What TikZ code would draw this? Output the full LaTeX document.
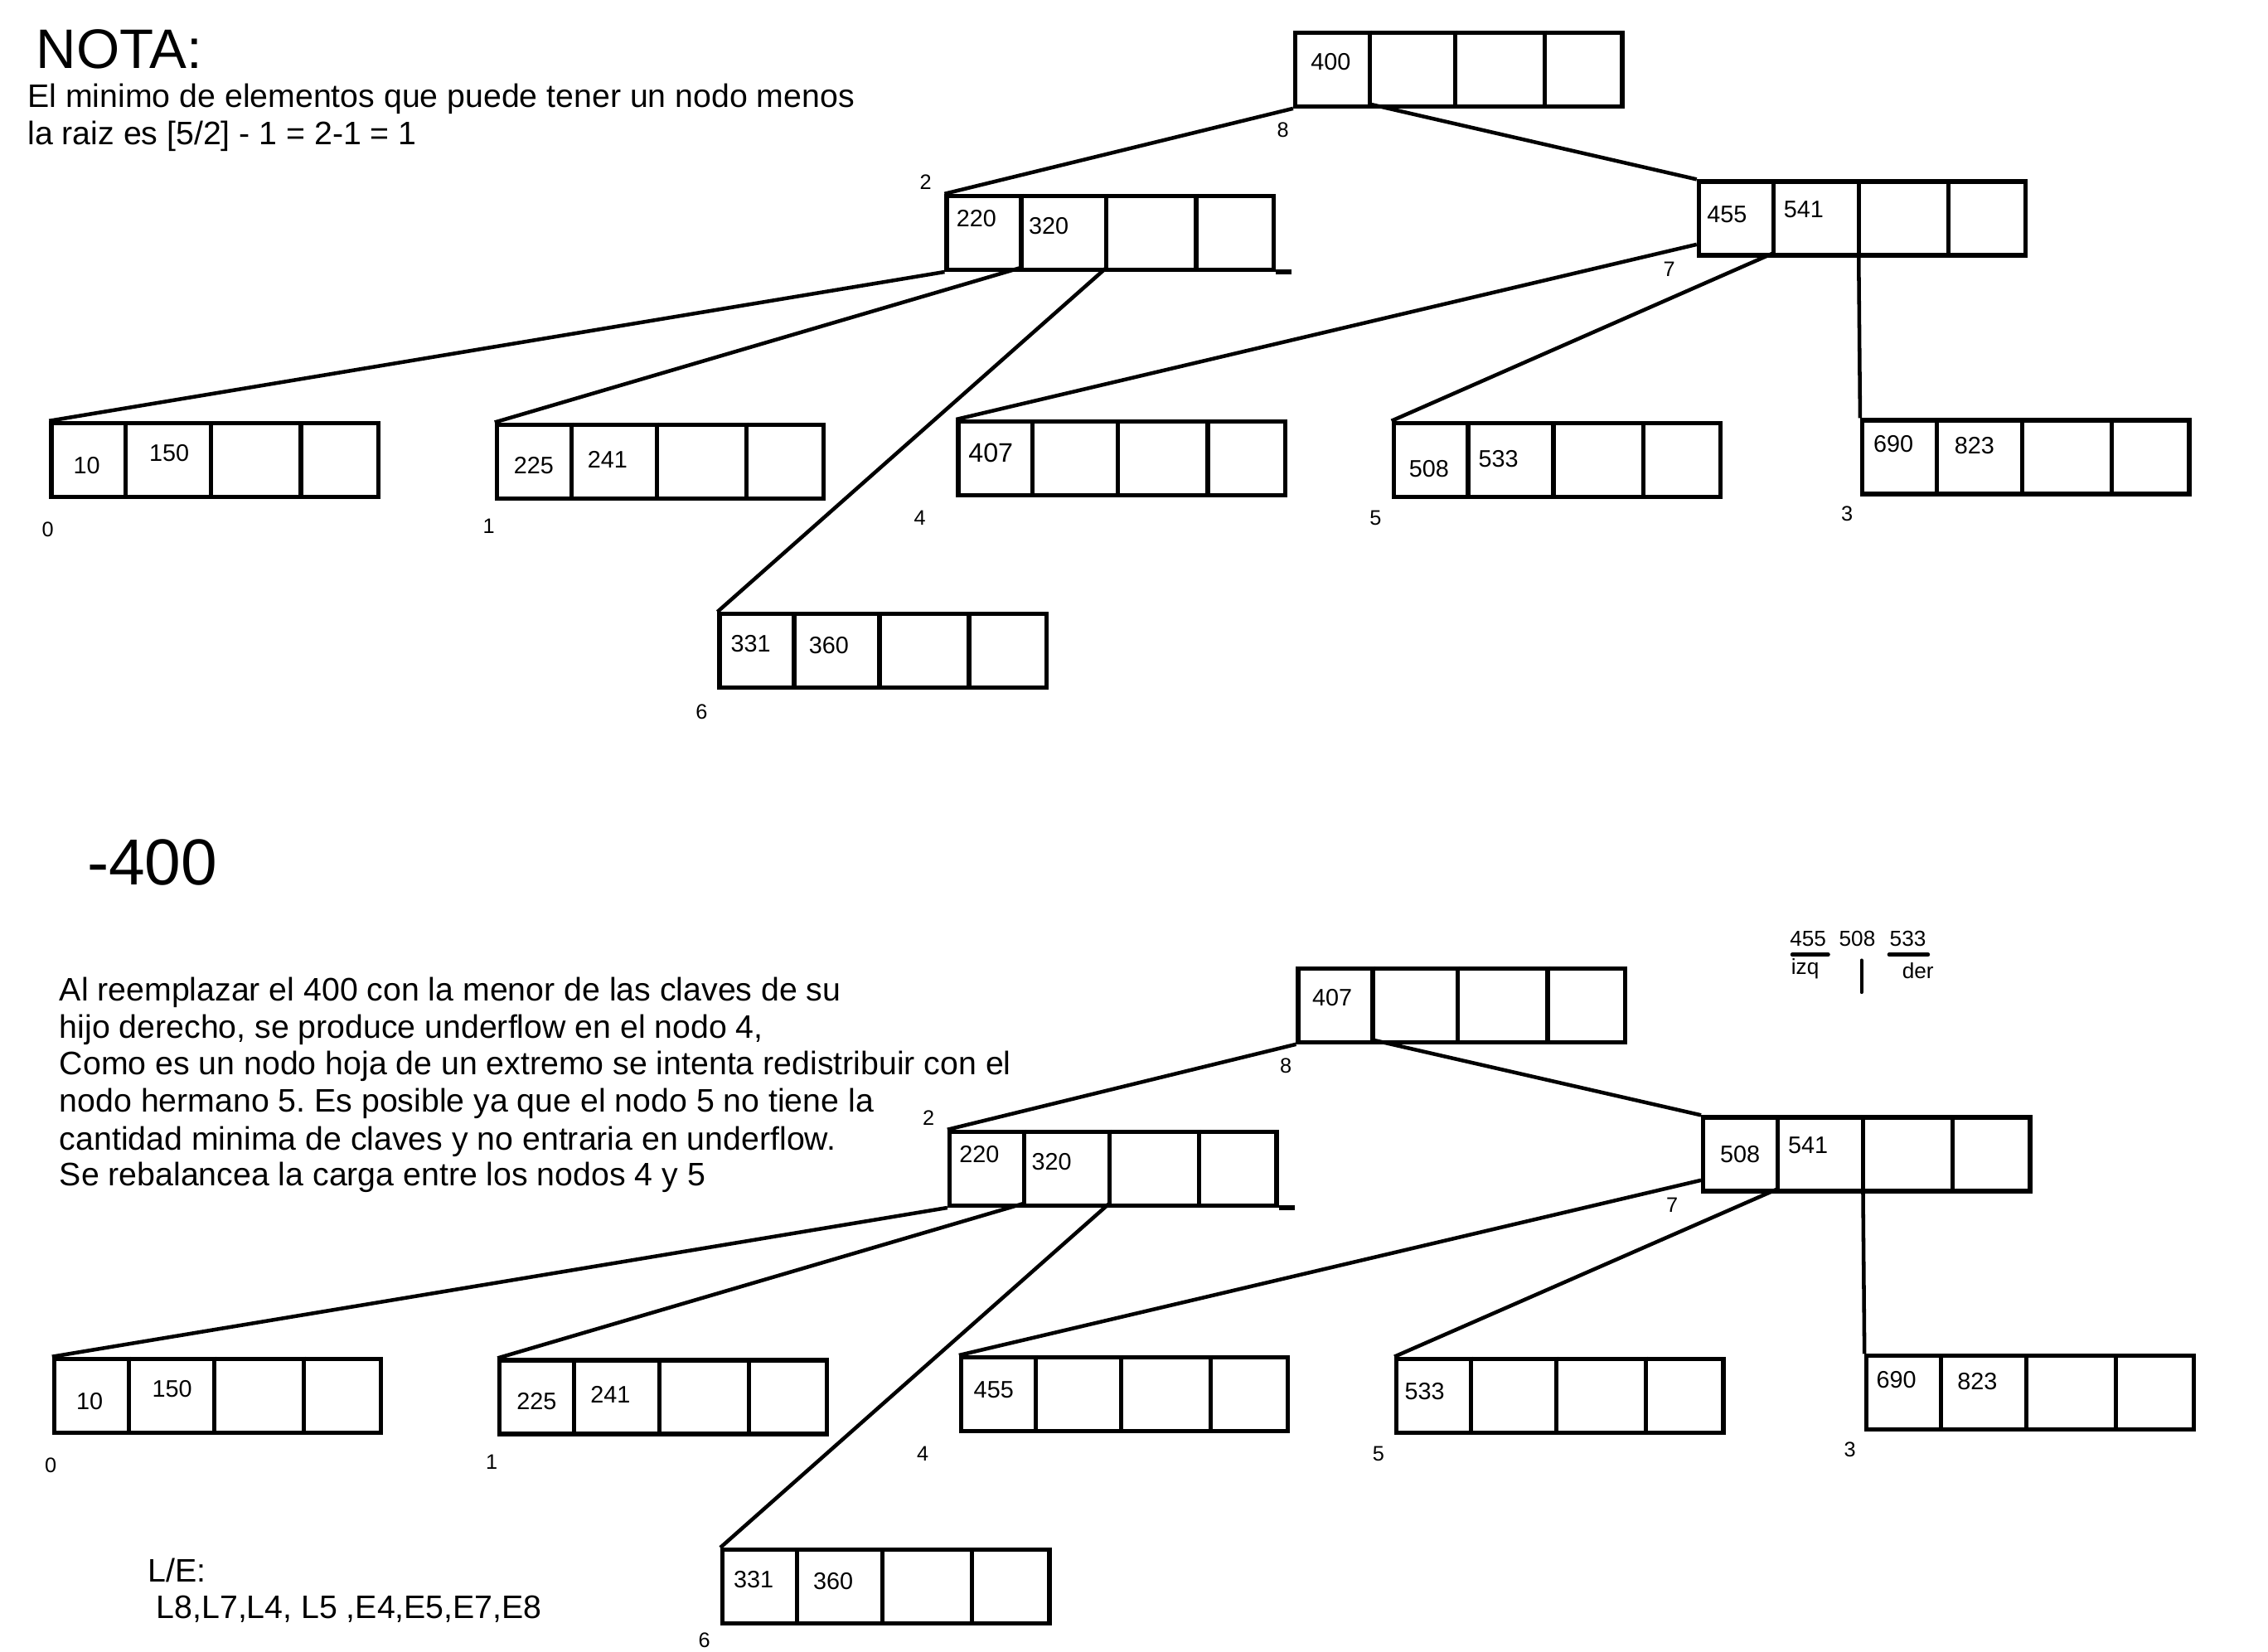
\documentclass[tikz,border=0pt]{standalone}
\usepackage{fontspec}
\setmainfont{Liberation Sans}
\frenchspacing
\begin{document}
\begin{tikzpicture}[x=1pt,y=-1pt,
  bx/.style={draw, line width=3pt, minimum width=226pt, minimum height=51pt, inner sep=0pt, anchor=north west},
  dv/.style={line width=3pt},
  edge/.style={line width=2.6pt},
  key/.style={font=\fontsize{16.5}{18}\selectfont, inner sep=0pt},
  bigkey/.style={font=\fontsize{18.5}{20}\selectfont, inner sep=0pt},
  lbl/.style={font=\fontsize{14.5}{16}\selectfont, inner sep=0pt},
  txt/.style={font=\fontsize{22.5}{25.7}\selectfont, inner sep=0pt, anchor=base west},
  uline/.style={line width=2.5pt, line cap=round}]
\useasboundingbox (0,0) rectangle (1568,1142);
\clip (0,0) rectangle (1568,1142);
\newcommand\bbox[3]{%
  \node[bx] (#1) at (#2,#3) {};
  \coordinate (#1-a) at (#2+53,#3+51);
  \coordinate (#1-b) at (#2+112,#3+51);
  \coordinate (#1-c) at (#2+174,#3+51);
  \coordinate (#1-l) at (#2,#3+45);
  \draw[dv] (#2+53,#3) -- (#1-a);
  \draw[dv] (#2+112,#3) -- (#1-b);
  \draw[dv] (#2+174,#3) -- (#1-c);
}
% ---------- top text
\node[anchor=base west, inner sep=0pt, font=\fontsize{38.5}{40}\selectfont] (nota) at (25,47) {NOTA:};
\node[txt] (n1) at (19,74) {El minimo de elementos que puede tener un nodo menos};
\node[txt] (n2) at (19,100) {la raiz es [5/2] - 1 = 2-1 = 1};
% ---------- top tree
\bbox{tR}{894}{21}
\bbox{t2}{653}{134}
\bbox{t7}{1173}{124}
\bbox{t0}{34}{291}
\bbox{t1}{342}{292}
\bbox{t6}{496}{423}
\bbox{t4}{661}{290}
\bbox{t5}{962}{291}
\bbox{t3}{1286}{289}
\draw[dv] (t2.south east) -- ++(11,0);
\draw[edge] (tR.south west) -- (t2.north west);
\draw[edge] (tR-a) -- (t7.north west);
\draw[edge] (t2.south west) -- (t0.north west);
\draw[edge] (t2-a) -- (t1.north west);
\draw[edge] (t2-b) -- (t6.north west);
\draw[edge] (t7-l) -- (t4.north west);
\draw[edge] (t7-a) -- (t5.north west);
\draw[edge] (t7-b) -- (t3.north west);
\node[key] (k1) at (920,43) {400};
\node[key] (k2) at (675,151) {220};
\node[key] (k3) at (725,156) {320};
\node[key] (k4) at (1194,148) {455};
\node[key] (k5) at (1247,145) {541};
\node[key] (k6) at (60,322) {10};
\node[key] (k7) at (117,313) {150};
\node[key] (k8) at (369,322) {225};
\node[key] (k9) at (420,318) {241};
\node[key] (k10) at (519,445) {331};
\node[key] (k11) at (573,446) {360};
\node[bigkey] (k12) at (685,313) {407};
\node[key] (k13) at (988,324) {508};
\node[key] (k14) at (1036,317) {533};
\node[key] (k15) at (1309,307) {690};
\node[key] (k16) at (1365,308) {823};
\node[lbl] (l1) at (887,90) {8};
\node[lbl] (l2) at (640,126) {2};
\node[lbl] (l3) at (1154,186) {7};
\node[lbl] (l4) at (33,366) {0};
\node[lbl] (l5) at (338,364) {1};
\node[lbl] (l6) at (485,492) {6};
\node[lbl] (l7) at (636,358) {4};
\node[lbl] (l8) at (951,358) {5};
\node[lbl] (l9) at (1277,355) {3};
% ---------- bottom text
\node[anchor=base west, inner sep=0pt, font=\fontsize{45}{48}\selectfont] (minus) at (60,612) {-400};
\node[txt] (p1) at (41,692) {Al reemplazar el 400 con la menor de las claves de su};
\node[txt] (p2) at (41,718) {hijo derecho, se produce underflow en el nodo 4,};
\node[txt] (p3) at (41,743) {Como es un nodo hoja de un extremo se intenta redistribuir con el};
\node[txt] (p4) at (41,769) {nodo hermano 5. Es posible ya que el nodo 5 no tiene la};
\node[txt] (p5) at (41,795) {cantidad minima de claves y no entraria en underflow.};
\node[txt] (p6) at (41,820) {Se rebalancea la carga entre los nodos 4 y 5};
\node[txt] (le1) at (102,1094) {L/E:};
\node[txt] (le2) at (108,1119) {L8,L7,L4, L5 ,E4,E5,E7,E8};
% annotation
\node[lbl, font=\fontsize{15}{16}\selectfont] (a1) at (1250,649) {455};
\node[lbl, font=\fontsize{15}{16}\selectfont] (a2) at (1284,649) {508};
\node[lbl, font=\fontsize{15}{16}\selectfont] (a3) at (1319,649) {533};
\draw[uline] (1239,660) -- (1264,660);
\draw[uline] (1306,660) -- (1333,660);
\draw[uline] (1287,664) -- (1287,686);
\node[lbl, font=\fontsize{15}{16}\selectfont] (a4) at (1248,670) {izq};
\node[lbl, font=\fontsize{15}{16}\selectfont] (a5) at (1326,671) {der};
% ---------- bottom tree
\bbox{bR}{896}{668}
\bbox{b2}{655}{781}
\bbox{b7}{1176}{771}
\bbox{b0}{36}{938}
\bbox{b1}{344}{939}
\bbox{b6}{498}{1070}
\bbox{b4}{663}{937}
\bbox{b5}{964}{938}
\bbox{b3}{1289}{936}
\draw[dv] (b2.south east) -- ++(11,0);
\draw[edge] (bR.south west) -- (b2.north west);
\draw[edge] (bR-a) -- (b7.north west);
\draw[edge] (b2.south west) -- (b0.north west);
\draw[edge] (b2-a) -- (b1.north west);
\draw[edge] (b2-b) -- (b6.north west);
\draw[edge] (b7-l) -- (b4.north west);
\draw[edge] (b7-a) -- (b5.north west);
\draw[edge] (b7-b) -- (b3.north west);
\node[key] (m1) at (921,690) {407};
\node[key] (m2) at (677,798) {220};
\node[key] (m3) at (727,803) {320};
\node[key] (m4) at (1203,798) {508};
\node[key] (m5) at (1250,792) {541};
\node[key] (m6) at (62,969) {10};
\node[key] (m7) at (119,960) {150};
\node[key] (m8) at (371,969) {225};
\node[key] (m9) at (422,964) {241};
\node[key] (m10) at (521,1092) {331};
\node[key] (m11) at (576,1093) {360};
\node[key] (m12) at (687,961) {455};
\node[key] (m13) at (985,962) {533};
\node[key] (m14) at (1311,954) {690};
\node[key] (m15) at (1367,955) {823};
\node[lbl] (o1) at (889,737) {8};
\node[lbl] (o2) at (642,773) {2};
\node[lbl] (o3) at (1156,833) {7};
\node[lbl] (o4) at (35,1013) {0};
\node[lbl] (o5) at (340,1011) {1};
\node[lbl] (o6) at (487,1134) {6};
\node[lbl] (o7) at (638,1005) {4};
\node[lbl] (o8) at (953,1005) {5};
\node[lbl] (o9) at (1279,1002) {3};
\end{tikzpicture}
\end{document}
